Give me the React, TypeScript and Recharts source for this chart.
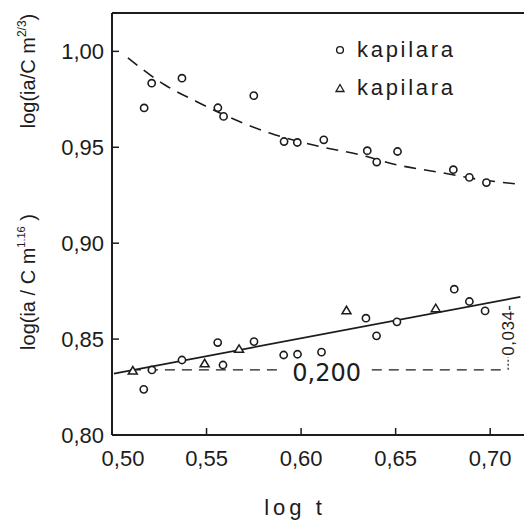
import React from 'react'
import {
  ComposedChart,
  Scatter,
  Line,
  XAxis,
  YAxis,
  Legend,
  ReferenceLine,
  ReferenceDot,
} from 'recharts'

// log t
const X_TICKS = [0.5, 0.55, 0.6, 0.65, 0.7]
const Y_TICKS = [0.8, 0.85, 0.9, 0.95, 1.0]

// upper set: log(ia / C m^2/3)
const upperCircles = [
  { x: 0.517, y: 0.9705 },
  { x: 0.521, y: 0.9834 },
  { x: 0.537, y: 0.986 },
  { x: 0.556, y: 0.9706 },
  { x: 0.559, y: 0.9661 },
  { x: 0.575, y: 0.9769 },
  { x: 0.591, y: 0.953 },
  { x: 0.598, y: 0.9525 },
  { x: 0.612, y: 0.9539 },
  { x: 0.635, y: 0.9482 },
  { x: 0.64, y: 0.9423 },
  { x: 0.651, y: 0.9478 },
  { x: 0.6805, y: 0.9383 },
  { x: 0.689, y: 0.9343 },
  { x: 0.698, y: 0.9316 },
]

const upperCurve = [
  { x: 0.5084, y: 0.9966 },
  { x: 0.5278, y: 0.9826 },
  { x: 0.5446, y: 0.9739 },
  { x: 0.5693, y: 0.9626 },
  { x: 0.5834, y: 0.9574 },
  { x: 0.6099, y: 0.9504 },
  { x: 0.6311, y: 0.9461 },
  { x: 0.6505, y: 0.9409 },
  { x: 0.6752, y: 0.9366 },
  { x: 0.6929, y: 0.9334 },
  { x: 0.7132, y: 0.931 },
]

// lower set: log(ia / C m^1.16)
const lowerCircles = [
  { x: 0.5168, y: 0.8238 },
  { x: 0.5211, y: 0.8339 },
  { x: 0.537, y: 0.8391 },
  { x: 0.5559, y: 0.8482 },
  { x: 0.5587, y: 0.8365 },
  { x: 0.5751, y: 0.8487 },
  { x: 0.5908, y: 0.8417 },
  { x: 0.5981, y: 0.8421 },
  { x: 0.6108, y: 0.8432 },
  { x: 0.6343, y: 0.8609 },
  { x: 0.6399, y: 0.8517 },
  { x: 0.6507, y: 0.859 },
  { x: 0.681, y: 0.876 },
  { x: 0.689, y: 0.8696 },
  { x: 0.6973, y: 0.8647 },
]

const lowerTriangles = [
  { x: 0.511, y: 0.8336 },
  { x: 0.549, y: 0.8374 },
  { x: 0.5672, y: 0.8449 },
  { x: 0.624, y: 0.865 },
  { x: 0.6712, y: 0.8661 },
]

const fitLine = [
  { x: 0.501, y: 0.832 },
  { x: 0.716, y: 0.872 },
]
const baseLeft = [
  { x: 0.51, y: 0.834 },
  { x: 0.5903, y: 0.834 },
]
const baseRight = [
  { x: 0.6374, y: 0.834 },
  { x: 0.7068, y: 0.834 },
]
const bracket = [
  { x: 0.7095, y: 0.834 },
  { x: 0.7095, y: 0.8405 },
]

const SLOPE_LABEL = { x: 0.6135, y: 0.8322, text: '0,200' }
const RISE_LABEL = { x: 0.7095, y: 0.8547, text: '0,034-' }

const INK = '#1c1c1c'
const FONT = '"Liberation Sans", Arial, sans-serif'
const WIDE_FONT = '"DejaVu Sans", sans-serif'

const fmt = (v: number) => v.toFixed(2).replace('.', ',')

const OpenCircle = (props: any) => (
  <circle cx={props.cx} cy={props.cy} r={3.6} fill="#fff" stroke={INK} strokeWidth={1.6} />
)

const OpenTriangle = (props: any) => {
  const { cx, cy } = props
  return (
    <polygon
      points={`${cx - 4.5},${cy + 3.5} ${cx + 4.5},${cy + 3.5} ${cx},${cy - 4}`}
      fill="#fff"
      stroke={INK}
      strokeWidth={1.5}
    />
  )
}

const XTick = ({ x, y, payload }: any) => (
  <text
    x={x + (payload.value === 0.5 ? 11 : 0)}
    y={y}
    dy="0.71em"
    textAnchor="middle"
    fontSize={22}
    fontFamily={FONT}
    fill={INK}
  >
    {fmt(payload.value)}
  </text>
)

const YTitles = () => (
  <g fontFamily={FONT} fontSize={20} fill={INK}>
    <text transform="translate(35, 71) rotate(-90)" textAnchor="middle">
      log(ia/C m
      <tspan dy={-9} fontSize={12}>2/3</tspan>
      <tspan dy={9}>)</tspan>
    </text>
    <text transform="translate(35, 282) rotate(-90)" textAnchor="middle">
      log(ia / C m
      <tspan dy={-10} fontSize={11}>1.16</tspan>
      <tspan dy={10}> )</tspan>
    </text>
  </g>
)

const XTitle = () => (
  <text x={295} y={515} textAnchor="middle" fontFamily={FONT} fontSize={22} letterSpacing={4} fill={INK}>
    log t
  </text>
)

const renderLegend = (props: any) => {
  const items = (props.payload ?? []).filter((p: any) => p.type !== 'none')
  return (
    <div style={{ fontFamily: FONT, fontSize: 22, color: INK }}>
      {items.map((item: any, i: number) => (
        <div key={i} style={{ display: 'flex', alignItems: 'center', height: 38 }}>
          <svg width={12} height={12} style={{ marginRight: 11 }}>
            {item.type === 'triangle' ? (
              <polygon points="2,9.5 10,9.5 6,2.5" fill="#fff" stroke={INK} strokeWidth={1.3} />
            ) : (
              <circle cx={6} cy={6} r={3.4} fill="#fff" stroke={INK} strokeWidth={1.4} />
            )}
          </svg>
          <span style={{ letterSpacing: 2.7 }}>{item.value}</span>
        </div>
      ))}
    </div>
  )
}

export default function App() {
  return (
    <div
      style={{
        position: 'absolute',
        left: 0,
        top: 0,
        width: 524,
        height: 523,
        overflow: 'hidden',
        background: '#fff',
      }}
    >
      <ComposedChart width={528} height={523} margin={{ top: 13, right: 0, bottom: 0, left: 0 }}>
        <XAxis
          dataKey="x"
          type="number"
          domain={[0.5, 0.72]}
          ticks={X_TICKS}
          interval={0}
          allowDataOverflow
          height={88}
          tickSize={-7}
          tickMargin={22}
          axisLine={{ stroke: INK, strokeWidth: 2 }}
          tickLine={{ stroke: INK, strokeWidth: 1.5 }}
          tick={<XTick />}
          label={{ content: () => <XTitle /> }}
        />
        <YAxis
          dataKey="y"
          type="number"
          domain={[0.8, 1.02]}
          ticks={Y_TICKS}
          interval={0}
          allowDataOverflow
          width={112}
          tickSize={-7}
          tickMargin={15}
          axisLine={{ stroke: INK, strokeWidth: 2 }}
          tickLine={{ stroke: INK, strokeWidth: 1.5 }}
          tick={{ fontSize: 22, fontFamily: FONT, fill: INK }}
          tickFormatter={fmt}
          label={{ content: () => <YTitles /> }}
        />
        <ReferenceLine y={1.02} stroke={INK} strokeWidth={2} />

        <Line
          data={upperCurve}
          dataKey="y"
          type="monotone"
          stroke={INK}
          strokeWidth={1.6}
          strokeDasharray="12 8"
          dot={false}
          legendType="none"
          isAnimationActive={false}
        />
        <Line
          data={fitLine}
          dataKey="y"
          type="linear"
          stroke={INK}
          strokeWidth={1.7}
          dot={false}
          legendType="none"
          isAnimationActive={false}
        />
        <Line
          data={baseLeft}
          dataKey="y"
          type="linear"
          stroke={INK}
          strokeWidth={1.3}
          strokeDasharray="10 7"
          dot={false}
          legendType="none"
          isAnimationActive={false}
        />
        <Line
          data={baseRight}
          dataKey="y"
          type="linear"
          stroke={INK}
          strokeWidth={1.3}
          strokeDasharray="10 7"
          dot={false}
          legendType="none"
          isAnimationActive={false}
        />
        <Line
          data={bracket}
          dataKey="y"
          type="linear"
          stroke={INK}
          strokeWidth={1.2}
          strokeDasharray="2 2"
          dot={false}
          legendType="none"
          isAnimationActive={false}
        />

        <Scatter
          name="kapilara upper"
          data={upperCircles}
          dataKey="y"
          shape={<OpenCircle />}
          legendType="none"
          isAnimationActive={false}
        />
        <Scatter
          name="kapilara"
          data={lowerCircles}
          dataKey="y"
          shape={<OpenCircle />}
          legendType="circle"
          isAnimationActive={false}
        />
        <Scatter
          name="kapilara"
          data={lowerTriangles}
          dataKey="y"
          shape={<OpenTriangle />}
          legendType="triangle"
          isAnimationActive={false}
        />

        <ReferenceDot
          x={SLOPE_LABEL.x}
          y={SLOPE_LABEL.y}
          r={0}
          stroke="none"
          label={{
            content: ({ viewBox }: any) => (
              <text
                x={viewBox.x + (viewBox.width ?? 0) / 2}
                y={viewBox.y + (viewBox.height ?? 0) / 2}
                textAnchor="middle"
                dominantBaseline="central"
                fontFamily={WIDE_FONT}
                fontSize={24}
                fill={INK}
              >
                {SLOPE_LABEL.text}
              </text>
            ),
          }}
        />
        <ReferenceDot
          x={RISE_LABEL.x}
          y={RISE_LABEL.y}
          r={0}
          stroke="none"
          label={{
            content: ({ viewBox }: any) => {
              const cx = viewBox.x + (viewBox.width ?? 0) / 2
              const cy = viewBox.y + (viewBox.height ?? 0) / 2
              return (
                <text
                  transform={`translate(${cx}, ${cy}) rotate(-90)`}
                  textAnchor="middle"
                  dominantBaseline="central"
                  fontFamily={FONT}
                  fontSize={17}
                  letterSpacing={0.5}
                  fill={INK}
                >
                  {RISE_LABEL.text}
                </text>
              )
            },
          }}
        />

        <Legend
          layout="vertical"
          align="center"
          verticalAlign="middle"
          wrapperStyle={{ left: 334, top: 31, width: 180 }}
          content={renderLegend}
        />
      </ComposedChart>
    </div>
  )
}
